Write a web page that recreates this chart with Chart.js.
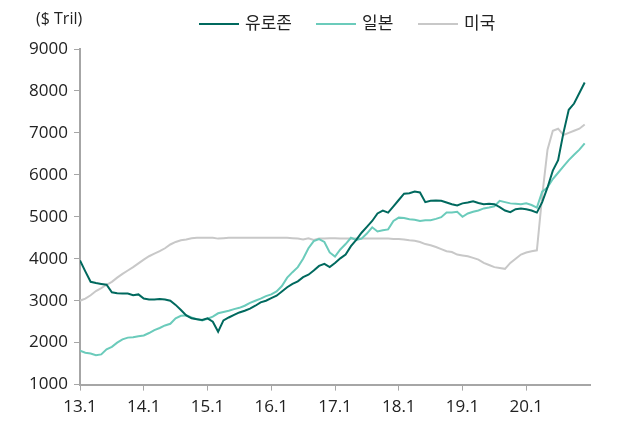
<!DOCTYPE html>
<html>
<head>
<meta charset="utf-8">
<script src="https://cdn.jsdelivr.net/npm/chart.js@4/dist/chart.umd.min.js"></script>
<style>
  html, body { margin: 0; padding: 0; background: #fff; }
  #wrap { width: 630px; height: 423px; position: relative; }
</style>
</head>
<body>
<div id="wrap"><canvas id="chart"></canvas></div>
<script>
// monthly, Jan 2013 .. Dec 2020
const yearLabels = ["13.1", "14.1", "15.1", "16.1", "17.1", "18.1", "19.1", "20.1"];
const seriesNames = ["유로존", "일본", "미국"];

const euro = [
  3960, 3700, 3450, 3420, 3400, 3380, 3200, 3180, 3170, 3170, 3130, 3150,
  3050, 3030, 3030, 3040, 3030, 3000, 2900, 2780, 2650, 2580, 2560, 2540,
  2580, 2500, 2260, 2530, 2600, 2660, 2720, 2760, 2810, 2880, 2960, 3000,
  3060, 3120, 3220, 3320, 3400, 3460, 3560, 3620, 3720, 3830, 3880, 3800,
  3900, 4010, 4100, 4300, 4450, 4620, 4760, 4900, 5080, 5150, 5100, 5250,
  5400, 5550, 5560, 5600, 5580, 5350, 5380, 5390, 5380, 5340, 5300, 5270,
  5320, 5340, 5370, 5330, 5300, 5310, 5300, 5230, 5150, 5110, 5180, 5200,
  5180, 5150, 5100, 5350, 5700, 6100, 6350, 7000, 7550, 7700, 7950, 8200
];

const japan = [
  1810, 1760, 1740, 1700, 1720, 1840, 1900, 2000, 2080, 2120, 2130, 2150,
  2170, 2230, 2300, 2350, 2410, 2450, 2580, 2640, 2650, 2600, 2560, 2530,
  2570, 2620, 2700, 2730, 2760, 2800, 2830, 2880, 2950, 3000, 3050, 3110,
  3150, 3220, 3350, 3550, 3680, 3800, 4000, 4250, 4420, 4470, 4400, 4150,
  4050, 4220, 4350, 4500, 4450, 4480, 4600, 4750, 4650, 4680, 4700, 4900,
  4980, 4970, 4940, 4930, 4900, 4920, 4920, 4950, 4990, 5100, 5100, 5120,
  5000, 5080, 5120, 5150, 5200, 5220, 5250, 5380, 5350, 5320, 5310, 5300,
  5320, 5280, 5220, 5600, 5700, 5900, 6050, 6200, 6350, 6480, 6600, 6750
];

const us = [
  3000, 3050, 3130, 3230, 3300, 3380, 3450, 3550, 3640, 3720, 3800, 3890,
  3980, 4060, 4120, 4180, 4250, 4340, 4400, 4440, 4460, 4490, 4500, 4500,
  4500, 4500, 4480, 4490, 4500, 4500, 4500, 4500, 4500, 4500, 4500, 4500,
  4500, 4500, 4500, 4500, 4490, 4480, 4460, 4490, 4450, 4480, 4480, 4490,
  4490, 4480, 4480, 4480, 4480, 4480, 4480, 4480, 4480, 4480, 4480, 4470,
  4470, 4460, 4440, 4430, 4400, 4350, 4320, 4280, 4230, 4180, 4160, 4100,
  4080, 4060, 4020, 3980, 3900, 3850, 3800, 3780, 3760, 3900, 4000, 4100,
  4150, 4180, 4200, 5500, 6600, 7050, 7100, 6950, 7000, 7050, 7100, 7200
];

const colors = ["#00695e", "#6bcbbb", "#c8c8c8"];
const FONT = '"Open Sans", "Noto Sans CJK KR", sans-serif';
const axisColor = "#a6a6a6";
const textColor = "#222";

const toPoints = (arr) => arr.map((v, i) => ({ x: i, y: v }));

// unit label + hand-placed legend above the plot
const topTexts = {
  id: "topTexts",
  afterDraw(chart) {
    const { ctx } = chart;
    ctx.save();
    ctx.font = `16px ${FONT}`;
    ctx.fillStyle = textColor;
    ctx.textBaseline = "middle";
    ctx.fillText("($ Tril)", 36, 19);

    ctx.font = `17px ${FONT}`;
    const starts = [199, 316, 418];
    chart.data.datasets.forEach((ds, i) => {
      const x = starts[i];
      ctx.strokeStyle = ds.borderColor;
      ctx.lineWidth = 2;
      ctx.beginPath();
      ctx.moveTo(x, 24);
      ctx.lineTo(x + 40, 24);
      ctx.stroke();
      ctx.fillText(ds.label, x + 46, 24);
    });
    ctx.restore();
  },
};

const ctx = document.getElementById("chart").getContext("2d");
new Chart(ctx, {
  type: "line",
  data: {
    datasets: [
      { label: seriesNames[0], data: toPoints(euro), borderColor: colors[0], borderWidth: 2 },
      { label: seriesNames[1], data: toPoints(japan), borderColor: colors[1], borderWidth: 2 },
      { label: seriesNames[2], data: toPoints(us), borderColor: colors[2], borderWidth: 2 },
    ],
  },
  options: {
    responsive: true,
    maintainAspectRatio: false,
    animation: false,
    events: [],
    elements: { point: { radius: 0 }, line: { tension: 0 } },
    layout: { padding: { left: 0, right: 40, top: 49, bottom: 1 } },
    plugins: {
      tooltip: { enabled: false },
      legend: { display: false },
    },
    scales: {
      x: {
        type: "linear",
        min: 0,
        max: 96,
        afterBuildTicks: (axis) => {
          axis.ticks = yearLabels.map((_, i) => ({ value: i * 12 }));
        },
        afterFit: (scale) => {
          scale.height -= 1;
        },
        ticks: {
          autoSkip: false,
          maxRotation: 0,
          color: textColor,
          padding: 6,
          font: { family: FONT, size: 17 },
          callback: (value) => yearLabels[value / 12],
        },
        grid: { drawOnChartArea: false, drawTicks: true, tickLength: 6, color: axisColor },
        border: { color: axisColor, width: 2 },
      },
      y: {
        min: 1000,
        max: 9000,
        afterFit: (scale) => {
          scale.width = 80;
        },
        ticks: {
          stepSize: 1000,
          color: textColor,
          padding: 6,
          font: { family: FONT, size: 17 },
          callback: (value) => String(value),
        },
        grid: { drawOnChartArea: false, drawTicks: true, tickLength: 6, color: axisColor },
        border: { color: axisColor, width: 2 },
      },
    },
  },
  plugins: [topTexts],
});
</script>
</body>
</html>
